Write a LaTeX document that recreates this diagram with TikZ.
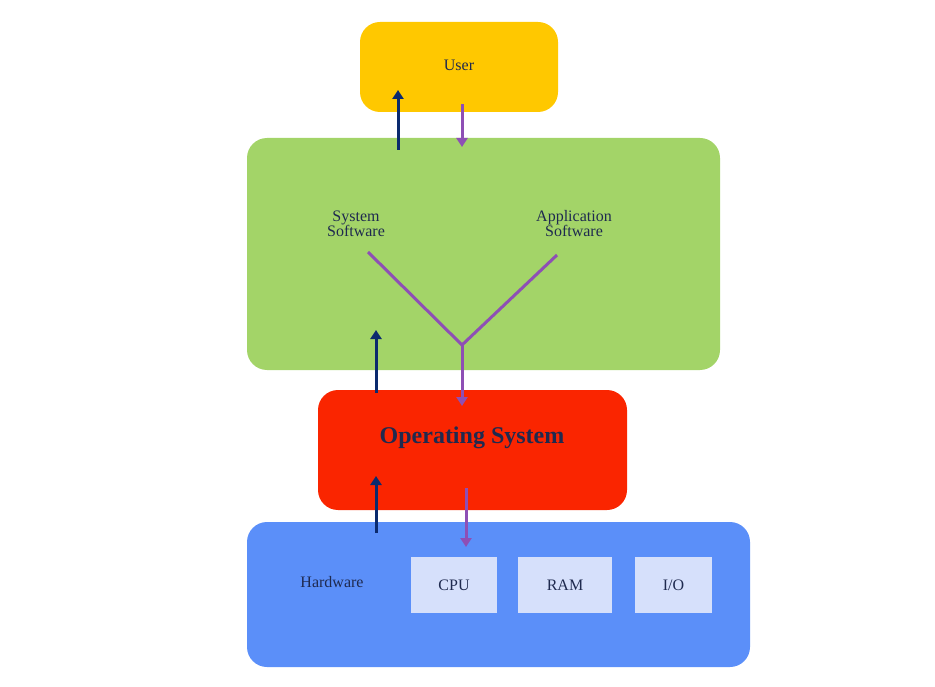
\documentclass[tikz,border=0pt]{standalone}
\usepackage{fontspec}
\setmainfont{Liberation Serif}
\usetikzlibrary{arrows.meta}
\definecolor{uorange}{HTML}{FFC800}
\definecolor{sgreen}{HTML}{A3D468}
\definecolor{osred}{HTML}{FA2500}
\definecolor{hblue}{HTML}{5B8FF9}
\definecolor{hlight}{HTML}{D6E0FB}
\definecolor{navy}{HTML}{0B2A6E}
\definecolor{purp}{HTML}{8E4FB5}
\definecolor{txt}{HTML}{1F2A4F}
\begin{document}
\begin{tikzpicture}[x=1pt,y=-1pt,
 box/.style={draw=none,rounded corners=20pt,inner sep=0pt},
 small/.style={fill=hlight,draw=none,inner sep=0pt},
 lbl/.style={font=\fontsize{16}{18}\selectfont,text=txt,align=center},
 up/.style={navy,line width=3pt,-{Triangle[length=9pt,width=11pt]}},
 down/.style={purp,line width=3pt,-{Triangle[length=9pt,width=11pt]}},
 vline/.style={purp,line width=3pt}]
\useasboundingbox (0,0) rectangle (935,687);
\fill[box,fill=uorange] (360,22) rectangle (558,112);
\fill[box,fill=sgreen] (247,138) rectangle (720,370);
\fill[box,fill=osred] (318,390) rectangle (627,510);
\fill[box,fill=hblue] (247,522) rectangle (750,667);
\node[small,minimum width=86pt,minimum height=56pt] (cpu) at (454,585) {};
\node[small,minimum width=94pt,minimum height=56pt] (ram) at (565,585) {};
\node[small,minimum width=77pt,minimum height=56pt] (io) at (673.5,585) {};
\node[lbl] (user) at (459,65) {User};
\node[lbl] (sys) at (356,224) {System\\[-3pt]Software};
\node[lbl] (app) at (574,224) {Application\\[-3pt]Software};
\node[font=\fontsize{24}{28}\selectfont\bfseries,text=txt] (os) at (472,438) {Operating System};
\node[lbl] (hw) at (332,582) {Hardware};
\node[lbl] at (cpu) {CPU};
\node[lbl] at (ram) {RAM};
\node[lbl] at (io) {I/O};
\coordinate (a1) at (398,150); \coordinate (a2) at (398,90);
\coordinate (b1) at (462,104); \coordinate (b2) at (462,147);
\coordinate (c1) at (376,393); \coordinate (c2) at (376,330);
\coordinate (v1) at (368,252); \coordinate (v2) at (557,255); \coordinate (vm) at (462,345); \coordinate (vd) at (462,406);
\coordinate (d1) at (376,533); \coordinate (d2) at (376,476);
\coordinate (e1) at (466,488); \coordinate (e2) at (466,547);
\draw[up] (a1) -- (a2);
\draw[down] (b1) -- (b2);
\draw[up] (c1) -- (c2);
\draw[vline] (v1) -- (vm);
\draw[vline] (v2) -- (vm);
\draw[down] (vm) -- (vd);
\draw[up] (d1) -- (d2);
\draw[down] (e1) -- (e2);
\end{tikzpicture}
\end{document}
